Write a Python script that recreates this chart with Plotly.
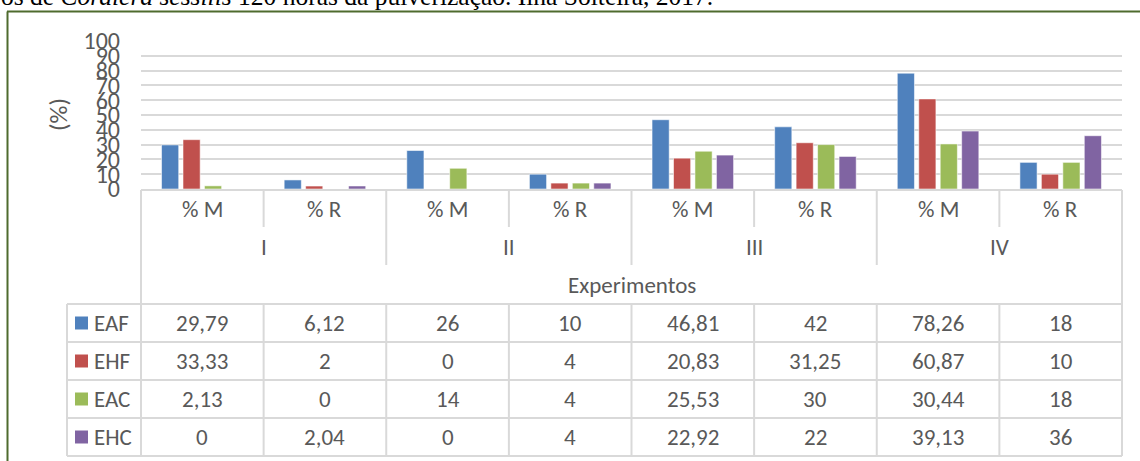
import plotly.graph_objects as go

# ---------------- data ----------------
groups = ["I", "II", "III", "IV"]
subcats = ["% M", "% R"]
series_names = ["EAF", "EHF", "EAC", "EHC"]
EAF = [29.79, 6.12, 26, 10, 46.81, 42, 78.26, 18]
EHF = [33.33, 2, 0, 4, 20.83, 31.25, 60.87, 10]
EAC = [2.13, 0, 14, 4, 25.53, 30, 30.44, 18]
EHC = [0, 2.04, 0, 4, 22.92, 22, 39.13, 36]
colors = ["#4F81BD", "#C0504D", "#9BBB59", "#8064A2"]
y_ticks = [0, 10, 20, 30, 40, 50, 60, 70, 80, 90, 100]
x_title = "Experimentos"
y_title = "(%)"
caption = "os de <i>Cordiera sessilis</i> 120 horas da pulverização. Ilha Solteira, 2017."

series = [EAF, EHF, EAC, EHC]

# ---------------- layout geometry (pixels) ----------------
W, H = 1140, 461
L, R, T, B = 141, 18, 41, 272
PW = W - L - R
PH = H - T - B
n_cat = len(groups) * len(subcats)
cw = PW / n_cat

def px(x):
    return (x - L) / PW

def py(y):
    return (H - B - y) / PH

TXT = "#595959"
GRID = "#d9d9d9"
FONT = "Carlito, Lato, sans-serif"
TS = 23

x_level0 = [g for g in groups for _ in subcats]
x_level1 = [s for _ in groups for s in subcats]

fig = go.Figure()
for name, vals, col in zip(series_names, series, colors):
    fig.add_trace(go.Bar(
        x=[x_level0, x_level1], y=vals, name=name,
        marker=dict(color=col, line=dict(color="rgba(255,255,255,0.55)", width=1)),
        showlegend=False,
    ))

shapes = []
def line(x0, y0, x1, y1, color=GRID, width=2):
    shapes.append(dict(type="line", xref="paper", yref="paper",
                       x0=px(x0), y0=py(y0), x1=px(x1), y1=py(y1),
                       line=dict(color=color, width=width)))

# outer frame (green)
FR = "#4F6B2E"
line(7, 11.5, 1145, 11.5, FR, 2)
line(7.5, 11.5, 7.5, 470, FR, 2)

# table geometry
x_left = L
x_right = L + PW
legend_left = 67
y_top = 190
y_sub = 227
y_grp = 265
y_data0 = 304
row_h = 38
n_rows = len(series)
y_bottom = y_data0 + row_h * n_rows

bounds = [L + i * cw for i in range(n_cat + 1)]

line(x_left, y_top, x_right, y_top)
line(x_left, y_top, x_left, y_bottom)
line(x_right, y_top, x_right, y_bottom)
for i in range(1, n_cat):
    xb = bounds[i]
    if i % len(subcats) == 0:
        line(xb, y_top, xb, y_grp)
    else:
        line(xb, y_top, xb, y_sub)
    line(xb, y_data0, xb, y_bottom)
line(legend_left, y_data0, legend_left, y_bottom)
for r in range(n_rows + 1):
    yy = y_data0 + r * row_h
    line(legend_left, yy, x_right, yy)

annotations = []
def text(x, y, s, size=TS, xanchor="center", **kw):
    annotations.append(dict(xref="paper", yref="paper", x=px(x), y=py(y), text=s,
                            showarrow=False, xanchor=xanchor, yanchor="middle",
                            font=dict(family=FONT, size=size, color=TXT), **kw))

def fmt(v):
    return f"{v:g}".replace(".", ",")

# header labels
for i in range(n_cat):
    cx = (bounds[i] + bounds[i + 1]) / 2
    text(cx, 209, x_level1[i])
for g_i, g in enumerate(groups):
    cx = (bounds[2 * g_i] + bounds[2 * g_i + 2]) / 2
    text(cx, 247, g)
text((x_left + x_right) / 2, 285, x_title)

# data rows
for r, (name, vals, col) in enumerate(zip(series_names, series, colors)):
    cy = y_data0 + r * row_h + row_h / 2
    shapes.append(dict(type="rect", xref="paper", yref="paper",
                       x0=px(75), x1=px(88), y0=py(cy - 6.5), y1=py(cy + 6.5),
                       fillcolor=col, line=dict(width=0)))
    text(92, cy, name, xanchor="left")
    for i, v in enumerate(vals):
        cx = (bounds[i] + bounds[i + 1]) / 2
        text(cx, cy, fmt(v))

# y-axis title
text(58, 115, y_title, size=25, textangle=-90)

# caption (cut at top)
annotations.append(dict(xref="paper", yref="paper", x=px(-1), y=py(13), text=caption,
                        showarrow=False, xanchor="left", yanchor="bottom",
                        font=dict(family="Liberation Serif, Times New Roman, serif", size=25.5, color="#000000")))

fig.update_layout(
    width=W, height=H,
    margin=dict(l=L, r=R, t=T, b=B, autoexpand=False),
    paper_bgcolor="white", plot_bgcolor="white",
    barmode="group", bargap=0.3, bargroupgap=0.2,
    shapes=shapes, annotations=annotations,
    xaxis=dict(type="multicategory", showticklabels=False, showgrid=False,
               zeroline=False, showline=False, showdividers=False, ticks="",
               range=[-0.5, n_cat - 0.5], automargin=False),
    yaxis=dict(range=[0, 100], tickvals=y_ticks, showgrid=True, gridcolor=GRID,
               gridwidth=2, zeroline=False, showline=False, ticks="",
               ticklabelstandoff=20,
               tickfont=dict(family=FONT, size=24, color=TXT), automargin=False),
)

fig.write_html("out.html", config={"displayModeBar": False},
               post_script="document.body.style.margin='0';document.body.style.overflow='hidden';")
